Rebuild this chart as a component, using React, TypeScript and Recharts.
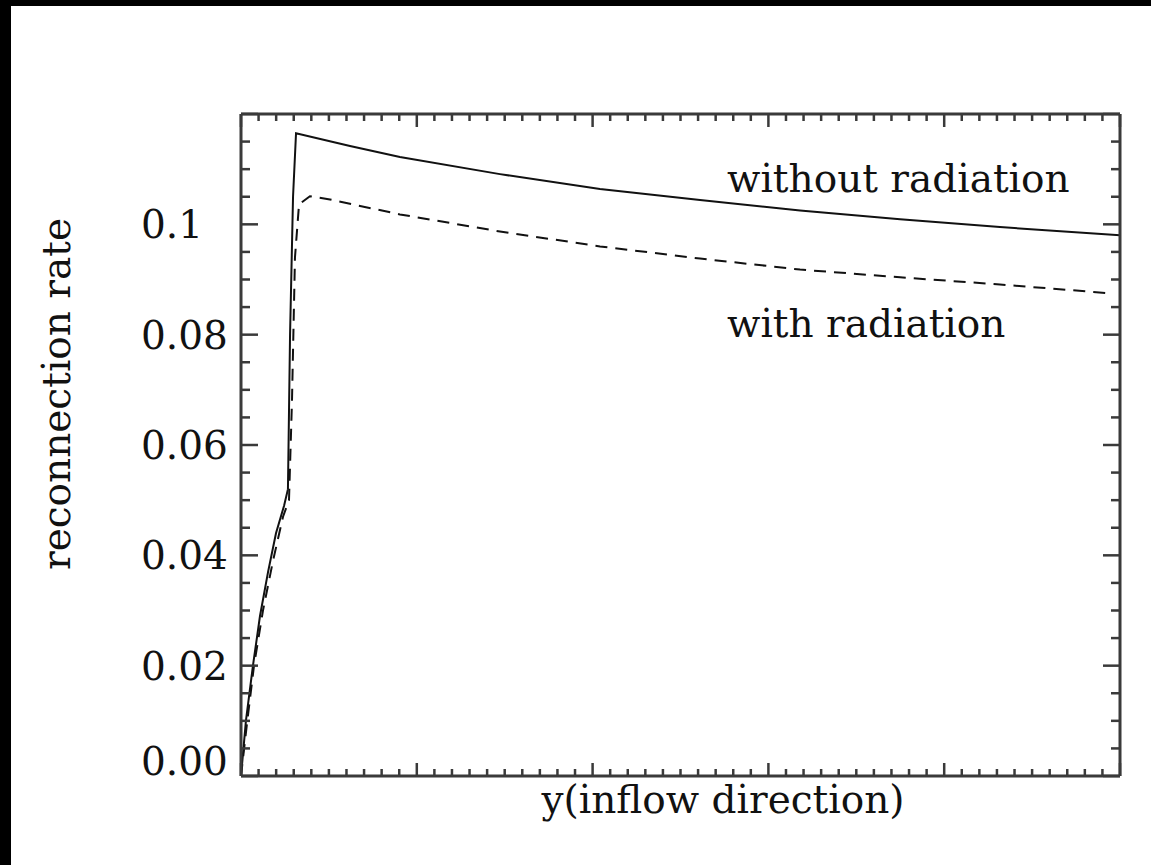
import React from 'react';
import { LineChart, Line, XAxis, YAxis } from 'recharts';

const W = 1151;
const H = 865;
const FONT = '"DejaVu Serif", "Liberation Serif", serif';
const INK = '#111';
const AXIS = '#3a3a3a';

// without radiation (solid)
const noRadY = [0, 0.028, 0.068, 0.108, 0.154, 0.199, 0.245, 0.267, 0.279, 0.296, 0.313, 0.62, 0.904, 1.473, 2.042, 2.611, 3.18, 3.749, 4.317, 5.0];
const noRadRate = [0, 0.01, 0.02, 0.029, 0.037, 0.044, 0.049, 0.052, 0.08, 0.105, 0.1165, 0.1142, 0.1122, 0.1091, 0.1064, 0.1044, 0.1025, 0.1009, 0.0995, 0.098];

// with radiation (dashed)
const radY = [0, 0.034, 0.074, 0.125, 0.182, 0.239, 0.273, 0.29, 0.307, 0.33, 0.392, 0.506, 0.904, 1.473, 2.042, 2.611, 3.18, 3.749, 4.317, 4.943];
const radRate = [0, 0.0095, 0.02, 0.03, 0.039, 0.047, 0.05, 0.068, 0.094, 0.1036, 0.1051, 0.1045, 0.1018, 0.0987, 0.096, 0.0938, 0.0918, 0.0904, 0.0891, 0.0875];

const yLabelValues = [0, 0.02, 0.04, 0.06, 0.08, 0.1];
const yLabelText = ['0.00', '0.02', '0.04', '0.06', '0.08', '0.1'];

const X_DOMAIN = [0, 5];
const Y_DOMAIN = [0, 0.12];

const noRadData = noRadY.map((y, i) => ({ y, rate: noRadRate[i] }));
const radData = radY.map((y, i) => ({ y, rate: radRate[i] }));

// minor ticks every 0.1 in y, every 0.005 in rate
const xTicks = Array.from({ length: 51 }, (_, i) => i / 10);
const yTicks = Array.from({ length: 25 }, (_, i) => (i * 5) / 1000);

const isMajorX = (v: number) => Math.abs(v - Math.round(v)) < 1e-6;
const isMajorY = (v: number) => Math.abs(v * 50 - Math.round(v * 50)) < 1e-6;

function BottomTick({ x, y, payload }: any) {
  const len = isMajorX(payload.value) ? 13 : 7;
  return <line x1={x} y1={y} x2={x} y2={y - len} stroke={AXIS} strokeWidth={2.5} />;
}

function TopTick({ x, y, payload }: any) {
  const len = isMajorX(payload.value) ? 13 : 7;
  return <line x1={x} y1={y} x2={x} y2={y + len} stroke={AXIS} strokeWidth={2.5} />;
}

function LeftTick({ x, y, payload }: any) {
  const major = isMajorY(payload.value);
  const idx = yLabelValues.findIndex((v) => Math.abs(v - payload.value) < 1e-9);
  // the zero label sits on top of the axis instead of centred on it
  const baseline = payload.value === 0 ? y - 1 : y + 14;
  return (
    <g>
      <line x1={x} y1={y} x2={x + (major ? 17 : 9)} y2={y} stroke={AXIS} strokeWidth={2.5} />
      {idx >= 0 && (
        <text x={x - 100} y={baseline} fontFamily={FONT} fontSize={39} fill={INK} textAnchor="start">
          {yLabelText[idx]}
        </text>
      )}
    </g>
  );
}

function RightTick({ x, y, payload }: any) {
  const len = isMajorY(payload.value) ? 17 : 9;
  return <line x1={x} y1={y} x2={x - len} y2={y} stroke={AXIS} strokeWidth={2.5} />;
}

const axisLine = { stroke: AXIS, strokeWidth: 3 };

export default function App() {
  return (
    <div style={{ position: 'fixed', left: 0, top: 0, width: W, height: H, background: '#fff', overflow: 'hidden' }}>
      <LineChart width={W} height={H} margin={{ top: 113, right: 30, bottom: 88, left: 240 }}>
        <XAxis xAxisId="bottom" dataKey="y" type="number" domain={X_DOMAIN} ticks={xTicks} interval={0}
          height={1} tickSize={0} tickMargin={0} tickLine={false} axisLine={axisLine} tick={<BottomTick />} allowDataOverflow />
        <XAxis xAxisId="top" orientation="top" dataKey="y" type="number" domain={X_DOMAIN} ticks={xTicks} interval={0}
          height={1} tickSize={0} tickMargin={0} tickLine={false} axisLine={axisLine} tick={<TopTick />} allowDataOverflow />
        <YAxis yAxisId="left" type="number" domain={Y_DOMAIN} ticks={yTicks} interval={0}
          width={1} tickSize={0} tickMargin={0} tickLine={false} axisLine={axisLine} tick={<LeftTick />} allowDataOverflow />
        <YAxis yAxisId="right" orientation="right" type="number" domain={Y_DOMAIN} ticks={yTicks} interval={0}
          width={1} tickSize={0} tickMargin={0} tickLine={false} axisLine={axisLine} tick={<RightTick />} allowDataOverflow />
        <Line data={noRadData} dataKey="rate" xAxisId="bottom" yAxisId="left" type="linear"
          stroke={INK} strokeWidth={2} dot={false} activeDot={false} isAnimationActive={false} />
        <Line data={radData} dataKey="rate" xAxisId="bottom" yAxisId="left" type="linear"
          stroke={INK} strokeWidth={2} strokeDasharray="12 8" dot={false} activeDot={false} isAnimationActive={false} />
      </LineChart>

      <svg width={W} height={H} style={{ position: 'absolute', left: 0, top: 0, pointerEvents: 'none' }}>
        <text x={727} y={192} fontFamily={FONT} fontSize={39} fill={INK}>without radiation</text>
        <text x={727} y={337} fontFamily={FONT} fontSize={39} fill={INK}>with radiation</text>
        <text x={723} y={813} fontFamily={FONT} fontSize={39} fill={INK} textAnchor="middle">y(inflow direction)</text>
        <text x={70} y={394} fontFamily={FONT} fontSize={39} fill={INK} textAnchor="middle" transform="rotate(-90 70 394)">
          reconnection rate
        </text>
      </svg>

      {/* frame edges */}
      <div style={{ position: 'absolute', left: 0, top: 0, width: 11, height: H, background: '#000' }} />
      <div style={{ position: 'absolute', left: 0, top: 0, width: W, height: 6, background: '#000' }} />
    </div>
  );
}
